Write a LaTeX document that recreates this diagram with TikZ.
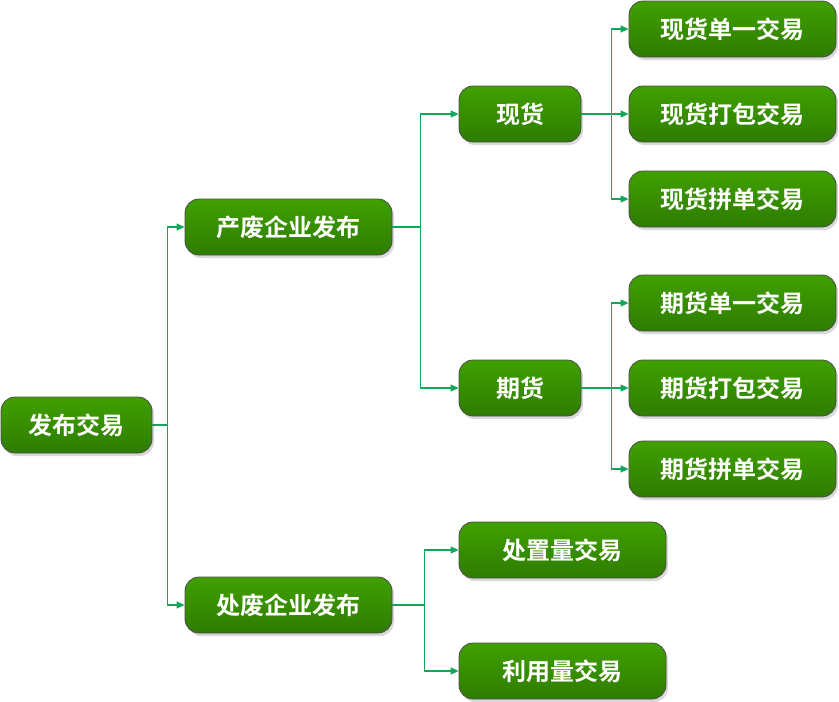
\documentclass[tikz,border=0pt]{standalone}
\usepackage{fontspec}
\setmainfont{Noto Sans CJK SC}[BoldFont={Noto Sans CJK SC Bold}]
\usetikzlibrary{shadows,arrows.meta}
\definecolor{gtop}{RGB}{64,160,0}
\definecolor{gbot}{RGB}{46,124,0}
\definecolor{lnk}{RGB}{16,168,88}
\begin{document}
\begin{tikzpicture}[x=1pt,y=1pt,
  box/.style={draw=black!70, line width=0.8pt, rounded corners=14pt,
    top color=gtop, bottom color=gbot,
    minimum height=56pt, inner sep=0pt, text=white,
    font=\bfseries\fontsize{24}{26}\selectfont,
    drop shadow={opacity=0.25, shadow xshift=2pt, shadow yshift=-3pt, fill=black!60}},
  conn/.style={draw=lnk, line width=1.1pt,
    -{Triangle[length=8pt,width=7pt]}}]
\useasboundingbox (0,0) rectangle (839,-702);
\node[box, minimum width=151pt] (root) at (76.5,-425) {发布交易};
\node[box, minimum width=207pt] (cf) at (288.5,-227) {产废企业发布};
\node[box, minimum width=207pt] (cz) at (288.5,-605) {处废企业发布};
\node[box, minimum width=122pt] (xh) at (520,-114) {现货};
\node[box, minimum width=122pt] (qh) at (520,-388) {期货};
\node[box, minimum width=207pt] (x1) at (732.5,-29) {现货单一交易};
\node[box, minimum width=207pt] (x2) at (732.5,-114) {现货打包交易};
\node[box, minimum width=207pt] (x3) at (732.5,-199) {现货拼单交易};
\node[box, minimum width=207pt] (q1) at (732.5,-303) {期货单一交易};
\node[box, minimum width=207pt] (q2) at (732.5,-388) {期货打包交易};
\node[box, minimum width=207pt] (q3) at (732.5,-469) {期货拼单交易};
\node[box, minimum width=207pt] (d1) at (562.5,-550) {处置量交易};
\node[box, minimum width=207pt] (d2) at (562.5,-671) {利用量交易};
\foreach \t in {cf,cz} \draw[conn] (root.east) -- ++(15,0) |- (\t.west);
\foreach \t in {xh,qh} \draw[conn] (cf.east) -- ++(28,0) |- (\t.west);
\foreach \t in {x1,x2,x3} \draw[conn] (xh.east) -- ++(30,0) |- (\t.west);
\foreach \t in {q1,q2,q3} \draw[conn] (qh.east) -- ++(30,0) |- (\t.west);
\foreach \t in {d1,d2} \draw[conn] (cz.east) -- ++(32,0) |- (\t.west);
\end{tikzpicture}
\end{document}
